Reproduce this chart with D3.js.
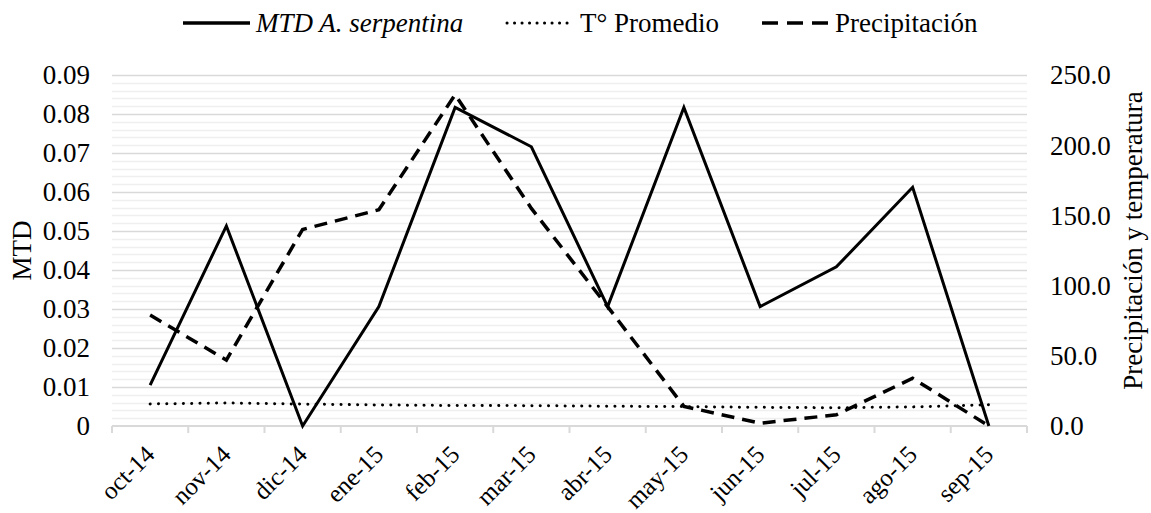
<!DOCTYPE html>
<html>
<head>
<meta charset="utf-8">
<script src="https://cdn.jsdelivr.net/npm/d3@7"></script>
<style>
  body { margin: 0; background: #fff; }
  svg { display: block; font-family: "Liberation Serif", "Times New Roman", serif; }
</style>
</head>
<body>
<div id="chart"></div>
<script>
const width = 1151;
const height = 513;
const margin = {top: 75, right: 124, bottom: 87, left: 112};
const fs = 27;

// data
const months = ["oct-14", "nov-14", "dic-14", "ene-15", "feb-15", "mar-15",
                "abr-15", "may-15", "jun-15", "jul-15", "ago-15", "sep-15"];
const mtd = [0.0105, 0.0513, 0, 0.0306, 0.0817, 0.0716, 0.0306, 0.0817, 0.0306, 0.0408, 0.0612, 0];
const tempProm = [15.7, 16.4, 15.6, 15.0, 14.6, 14.5, 14.1, 13.8, 13.3, 13.0, 13.6, 15.2];
const precip = [79, 47, 140, 154, 236, 155, 85, 14, 2, 8, 34, 0];
const leftTicks = [0, 0.01, 0.02, 0.03, 0.04, 0.05, 0.06, 0.07, 0.08, 0.09];
const rightTicks = [0, 50, 100, 150, 200, 250];

const svg = d3.select("#chart").append("svg")
    .attr("width", width)
    .attr("height", height);

const x = d3.scaleBand()
    .domain(months)
    .range([margin.left, width - margin.right]);

const yL = d3.scaleLinear()
    .domain([0, 0.09])
    .range([height - margin.bottom, margin.top]);

const yR = d3.scaleLinear()
    .domain([0, 250])
    .range([height - margin.bottom, margin.top]);

// minor gridlines
const minor = d3.range(0, 0.0901, 0.002).filter((v, i) => i % 5 !== 0);
svg.append("g")
  .selectAll("line")
  .data(minor)
  .join("line")
    .attr("x1", margin.left)
    .attr("x2", width - margin.right)
    .attr("y1", d => Math.round(yL(d)) + 0.5)
    .attr("y2", d => Math.round(yL(d)) + 0.5)
    .attr("stroke", "#efefef")
    .attr("stroke-width", 1.5);

// major gridlines
svg.append("g")
  .selectAll("line")
  .data(leftTicks.slice(1))
  .join("line")
    .attr("x1", margin.left)
    .attr("x2", width - margin.right)
    .attr("y1", d => Math.round(yL(d)) + 0.5)
    .attr("y2", d => Math.round(yL(d)) + 0.5)
    .attr("stroke", "#d9d9d9")
    .attr("stroke-width", 1.5);

// x axis
const xAxis = svg.append("g")
    .attr("transform", `translate(0,${height - margin.bottom})`);
xAxis.append("line")
    .attr("x1", margin.left).attr("x2", width - margin.right)
    .attr("stroke", "#d9d9d9").attr("stroke-width", 2);
const bounds = months.map(m => x(m)).concat([width - margin.right]);
xAxis.selectAll("line.tick")
  .data(bounds)
  .join("line")
    .attr("class", "tick")
    .attr("x1", d => d).attr("x2", d => d)
    .attr("y1", 0).attr("y2", 7)
    .attr("stroke", "#d9d9d9").attr("stroke-width", 2);
xAxis.selectAll("text")
  .data(months)
  .join("text")
    .attr("transform", d => `translate(${x(d) + x.bandwidth() / 2 + 6},${30}) rotate(-45)`)
    .attr("text-anchor", "end")
    .attr("font-size", 25)
    .attr("fill", "#000")
    .text(d => d);

// left axis
const lAxis = svg.append("g")
    .attr("transform", `translate(${margin.left},0)`)
    .call(d3.axisLeft(yL).tickValues(leftTicks).tickSize(0).tickPadding(22)
      .tickFormat(d => d === 0 ? "0" : d3.format(".2f")(d)));
lAxis.attr("font-family", null);
lAxis.select(".domain").remove();
lAxis.selectAll("text").attr("font-size", fs).attr("fill", "#000").attr("dy", "0.33em");

// right axis
const rAxis = svg.append("g")
    .attr("transform", `translate(${width - margin.right},0)`)
    .call(d3.axisRight(yR).tickValues(rightTicks).tickSize(0).tickPadding(23)
      .tickFormat(d3.format(".1f")));
rAxis.attr("font-family", null);
rAxis.select(".domain").remove();
rAxis.selectAll("text").attr("font-size", fs).attr("fill", "#000").attr("dy", "0.33em");

// axis titles
svg.append("text")
    .attr("transform", `translate(31,${yL(0.045)}) rotate(-90)`)
    .attr("text-anchor", "middle")
    .attr("font-size", fs)
    .text("MTD");
svg.append("text")
    .attr("transform", `translate(1142,${yR(125) - 10}) rotate(-90)`)
    .attr("text-anchor", "middle")
    .attr("font-size", fs)
    .text("Precipitación y temperatura");

const cx = d => x(d) + x.bandwidth() / 2;

// temperature (dotted)
svg.append("path")
    .datum(tempProm)
    .attr("fill", "none")
    .attr("stroke", "#000")
    .attr("stroke-width", 3)
    .attr("stroke-linecap", "round")
    .attr("stroke-dasharray", "0.1,8.2")
    .attr("d", d3.line().x((d, i) => cx(months[i])).y(d => yR(d)));

// precipitation (dashed)
svg.append("path")
    .datum(precip)
    .attr("fill", "none")
    .attr("stroke", "#000")
    .attr("stroke-width", 3.5)
    .attr("stroke-dasharray", "13,8")
    .attr("d", d3.line().x((d, i) => cx(months[i])).y(d => yR(d)));

// MTD (solid)
svg.append("path")
    .datum(mtd)
    .attr("fill", "none")
    .attr("stroke", "#000")
    .attr("stroke-width", 3)
    .attr("stroke-linejoin", "miter")
    .attr("d", d3.line().x((d, i) => cx(months[i])).y(d => yL(d)));

// legend
const legend = svg.append("g").attr("font-size", fs);
const legendItems = [
  {label: "MTD A. serpentina", x0: 183, italic: true, dash: null, w: 3.3},
  {label: "T° Promedio", x0: 507, italic: false, dash: "0.1,7.4", w: 3},
  {label: "Precipitación", x0: 762, italic: false, dash: "16,9", w: 3.5}
];
legendItems.forEach(it => {
  legend.append("line")
      .attr("x1", it.x0).attr("x2", it.x0 + 67)
      .attr("y1", 23).attr("y2", 23)
      .attr("stroke", "#000")
      .attr("stroke-width", it.w)
      .attr("stroke-linecap", it.dash && it.dash.startsWith("0.1") ? "round" : "butt")
      .attr("stroke-dasharray", it.dash);
  legend.append("text")
      .attr("x", it.x0 + 73)
      .attr("y", 32)
      .attr("font-style", it.italic ? "italic" : null)
      .text(it.label);
});
</script>
</body>
</html>
